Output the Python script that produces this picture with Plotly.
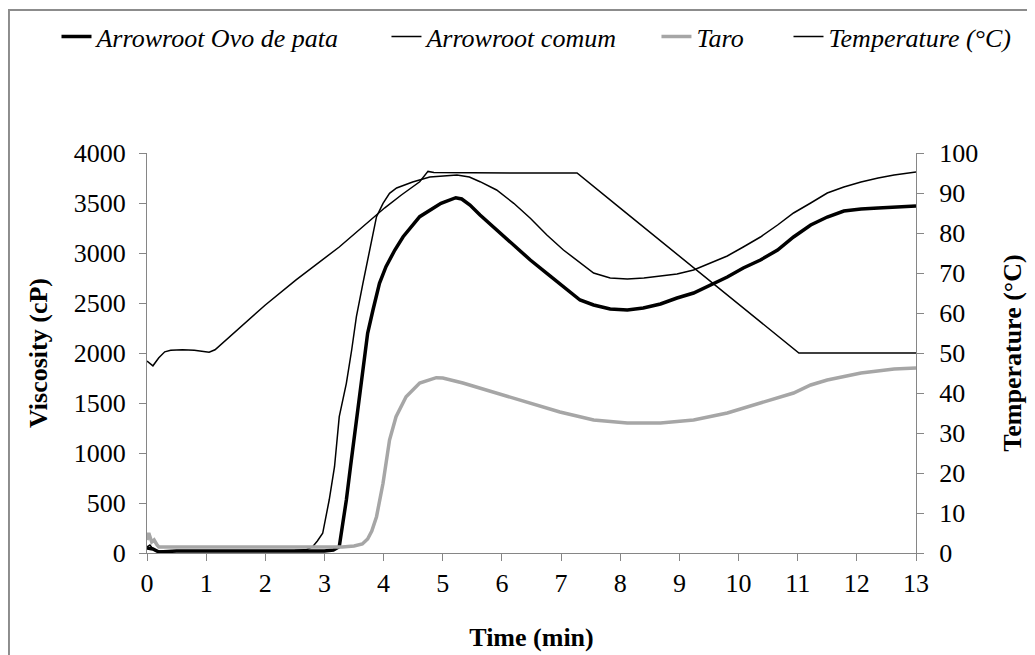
import plotly.graph_objects as go

# ---------------- data ----------------
time_ovo = [0, 0.1, 0.2, 0.5, 1, 1.5, 2, 2.5, 3.0, 3.15, 3.25, 3.31, 3.37, 3.44, 3.51,
            3.59, 3.65, 3.73, 3.82, 3.93, 4.04, 4.19, 4.33, 4.61, 4.97, 5.22, 5.32,
            5.46, 5.63, 5.91, 6.2, 6.48, 6.76, 7.04, 7.32, 7.55, 7.83, 8.12, 8.39,
            8.68, 8.96, 9.24, 9.53, 9.81, 10.08, 10.37, 10.66, 10.93, 11.22, 11.5,
            11.78, 12.07, 12.36, 12.63, 13]
visc_ovo = [50, 40, 10, 20, 20, 20, 20, 20, 20, 30, 63, 297, 530, 863, 1197,
            1530, 1863, 2197, 2430, 2697, 2863, 3030, 3163, 3363, 3497, 3553, 3540,
            3480, 3380, 3230, 3080, 2930, 2797, 2663, 2530, 2480, 2440, 2430, 2450,
            2490, 2550, 2600, 2680, 2760, 2850, 2930, 3030, 3160, 3280, 3360,
            3420, 3440, 3450, 3460, 3470]

time_comum = [0, 0.05, 0.1, 0.15, 0.2, 0.3, 0.5, 1.0, 1.5, 2.0, 2.5, 2.7, 2.8, 2.88,
              2.97, 3.08, 3.17, 3.25, 3.37, 3.46, 3.54, 3.65, 3.76, 3.88, 3.99, 4.1,
              4.22, 4.49, 4.78, 5.0, 5.24, 5.45, 5.63, 5.91, 6.2, 6.48, 6.76, 7.04,
              7.32, 7.55, 7.83, 8.12, 8.4, 8.68, 8.96, 9.24, 9.53, 9.81, 10.08, 10.37,
              10.66, 10.93, 11.22, 11.5, 11.78, 12.07, 12.36, 12.63, 13.0]
visc_comum = [60, 80, 40, 20, 20, 20, 20, 20, 20, 20, 25, 35, 63, 120,
              197, 530, 863, 1363, 1697, 2030, 2363, 2697, 3030, 3363, 3497, 3597,
              3650, 3710, 3760, 3770, 3780, 3760, 3713, 3630, 3497, 3347, 3180, 3030,
              2900, 2800, 2750, 2740, 2750, 2770, 2790, 2830, 2900, 2970, 3060, 3160,
              3280, 3400, 3500, 3600, 3660, 3710, 3750, 3780, 3810]

time_taro = [0, 0.03, 0.08, 0.12, 0.17, 0.2, 0.3, 0.5, 1, 2, 3, 3.3, 3.5, 3.64,
             3.73, 3.8, 3.88, 3.99, 4.1, 4.21, 4.38, 4.61, 4.89, 5.0, 5.34, 5.92,
             6.47, 6.98, 7.55, 8.12, 8.68, 9.24, 9.81, 10.37, 10.93, 11.22, 11.5,
             12.07, 12.63, 13]
visc_taro = [130, 200, 110, 130, 80, 60, 60, 60, 60, 60, 60, 60, 70, 90,
             140, 220, 363, 697, 1130, 1363, 1563, 1700, 1753, 1750, 1700, 1600,
             1500, 1410, 1330, 1300, 1300, 1330, 1400, 1500, 1600, 1680, 1730,
             1800, 1840, 1850]

time_temp = [0.0, 0.05, 0.1, 0.2, 0.3, 0.4, 0.6, 0.8, 0.95, 1.05, 1.15, 1.5, 2.0,
             2.52, 3.25, 4.02, 4.3, 4.61, 4.75, 4.85, 5.5, 6.0, 6.5, 7.0, 7.27,
             8.0, 9.0, 10.0, 11.02, 11.5, 12.0, 13.0]
temp = [48.0, 47.5, 46.8, 48.8, 50.3, 50.7, 50.8, 50.7, 50.3, 50.2, 50.8, 55.5, 62.0,
        68.3, 76.5, 86.3, 89.5, 92.8, 95.4, 95.1, 95.0, 95.0, 95.0, 95.0, 95.0,
        86.2, 74.2, 62.2, 50.0, 50.0, 50.0, 50.0]

series_names = ["Arrowroot Ovo de pata", "Arrowroot comum", "Taro", "Temperature (°C)"]

x_ticks = list(range(0, 14))
visc_ticks = list(range(0, 4001, 500))
temp_ticks = list(range(0, 101, 10))

# ---------------- figure ----------------
FONT = "Liberation Serif"
AXIS_GREY = "#868686"

fig = go.Figure()
fig.add_trace(go.Scatter(x=time_ovo, y=visc_ovo, name=series_names[0], legend="legend",
                         mode="lines", line=dict(color="#000000", width=3.5)))
fig.add_trace(go.Scatter(x=time_comum, y=visc_comum, name=series_names[1], legend="legend2",
                         mode="lines", line=dict(color="#000000", width=1.5)))
fig.add_trace(go.Scatter(x=time_taro, y=visc_taro, name=series_names[2], legend="legend3",
                         mode="lines", line=dict(color="#A6A6A6", width=3.5)))
fig.add_trace(go.Scatter(x=time_temp, y=temp, name=series_names[3], legend="legend4",
                         yaxis="y2", mode="lines", line=dict(color="#000000", width=1.5)))

legend_font = dict(family=FONT, size=26, style="italic", color="#000000")


def legend_box(xpos):
    return dict(orientation="h", x=xpos, xanchor="left", y=1.291, yanchor="middle",
                font=legend_font, bgcolor="rgba(0,0,0,0)", itemwidth=30)


fig.update_layout(
    width=1027, height=647,
    margin=dict(l=139, r=119, t=145, b=102, autoexpand=False),
    paper_bgcolor="white", plot_bgcolor="white",
    font=dict(family=FONT, size=26, color="#000000"),
    showlegend=True,
    legend=legend_box(-0.1177),
    legend2=legend_box(0.3114),
    legend3=legend_box(0.6625),
    legend4=legend_box(0.8342),
    xaxis=dict(range=[0, 13], tickvals=x_ticks, ticks="outside", ticklen=7,
               tickcolor=AXIS_GREY, showline=True, linecolor=AXIS_GREY, linewidth=1,
               showgrid=False, zeroline=False, tickfont=dict(size=26), automargin=False,
               title=dict(text="Time (min)", standoff=30,
                          font=dict(size=26, weight="bold"))),
    yaxis=dict(range=[0, 4000], tickvals=visc_ticks, ticks="outside", ticklen=7,
               tickcolor=AXIS_GREY, showline=True, linecolor=AXIS_GREY, linewidth=1,
               showgrid=False, zeroline=False, tickfont=dict(size=26), automargin=False,
               ticklabelstandoff=8,
               title=dict(text="Viscosity (cP)", standoff=18,
                          font=dict(size=26, weight="bold"))),
    yaxis2=dict(range=[0, 100], tickvals=temp_ticks, ticks="outside", ticklen=7,
                tickcolor=AXIS_GREY, showline=True, linecolor=AXIS_GREY, linewidth=1,
                showgrid=False, zeroline=False, overlaying="y", side="right",
                anchor="x", tickfont=dict(size=26), ticklabelstandoff=10,
                automargin=False,
                title=dict(text="Temperature (°C)", standoff=25,
                           font=dict(size=26, weight="bold"))),
    yaxis3=dict(range=[0, 100], tickvals=temp_ticks, ticks="inside", ticklen=7,
                tickcolor=AXIS_GREY, showline=False, showgrid=False, zeroline=False,
                overlaying="y", side="right", anchor="x", showticklabels=False),
)

# outer chart-area border (top and left visible, the rest runs off the canvas)
fig.add_shape(type="rect", xref="paper", yref="paper",
              x0=-0.1795, x1=1.2, y0=-0.3, y1=1.3575,
              line=dict(color="#8C8C8C", width=2), fillcolor="rgba(0,0,0,0)",
              layer="below")

fig.write_html("out.html")
